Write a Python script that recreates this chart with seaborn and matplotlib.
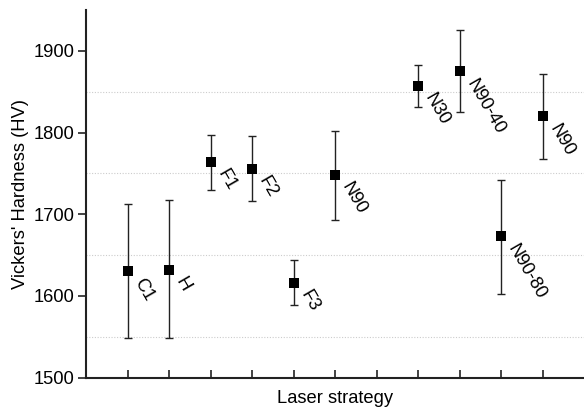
import matplotlib
matplotlib.use("Agg")
import matplotlib.pyplot as plt
import pandas as pd
import seaborn as sns

# hardness per laser strategy
labels = ["C1", "H", "F1", "F2", "F3", "N90", "N30", "N90-40", "N90-80", "N90"]
positions = [1, 2, 3, 4, 5, 6, 8, 9, 10, 11]
hardness = [1631, 1632, 1764, 1756, 1616, 1748, 1857, 1875, 1673, 1820]
err_low = [1549, 1548, 1730, 1716, 1589, 1693, 1831, 1825, 1603, 1768]
err_high = [1713, 1717, 1797, 1796, 1644, 1802, 1883, 1925, 1742, 1872]
y_ticks = [1500, 1600, 1700, 1800, 1900]
grid_lines = [1550, 1650, 1750, 1850]

sns.set_theme(style="ticks")
plt.rcParams["font.family"] = ["Liberation Sans", "DejaVu Sans"]

FS = 13.2

df = pd.DataFrame({"pos": positions, "hv": hardness, "lo": err_low, "hi": err_high, "label": labels})

fig, ax = plt.subplots(figsize=(5.84, 4.12), dpi=100)
fig.subplots_adjust(left=86 / 584, right=1.0, bottom=34.3 / 412, top=402 / 412)

# dotted light grid between the major ticks
for g in grid_lines:
    ax.axhline(g, color="#cccccc", linestyle=(0, (1, 1.5)), linewidth=0.8, zorder=0)

# error bars
yerr = [df["hv"] - df["lo"], df["hi"] - df["hv"]]
ax.errorbar(df["pos"], df["hv"], yerr=yerr, fmt="none", ecolor="#222222",
            elinewidth=1.0, capsize=3, capthick=1.0, zorder=2)

# square markers
sns.scatterplot(data=df, x="pos", y="hv", marker="s", color="black", s=45,
                edgecolor="black", linewidth=0, ax=ax, zorder=3, legend=False)

# rotated labels next to markers
for _, row in df.iterrows():
    ax.annotate(row["label"], (row["pos"], row["hv"]), xytext=(7.5, -6.5),
                textcoords="offset points", ha="left", va="center",
                rotation=-60, rotation_mode="anchor", fontsize=FS, color="black")

ax.set_xlim(0, 12)
ax.set_ylim(1500, 1950)
ax.set_xticks(range(1, 12))
ax.set_xticklabels([])
ax.set_yticks(y_ticks)
ax.tick_params(axis="x", direction="in", length=6, width=1.2, color="#222222")
ax.tick_params(axis="y", direction="out", length=5.5, width=1.2, color="#222222",
               labelsize=FS, labelcolor="black", pad=3)

sns.despine(ax=ax)
for side in ["left", "bottom"]:
    ax.spines[side].set_linewidth(1.5)
    ax.spines[side].set_color("#222222")

ax.set_xlabel("Laser strategy", fontsize=FS, color="black", labelpad=5)
ax.set_ylabel("Vickers' Hardness (HV)", fontsize=FS, color="black", labelpad=3)

fig.savefig("out.png", dpi=100)
